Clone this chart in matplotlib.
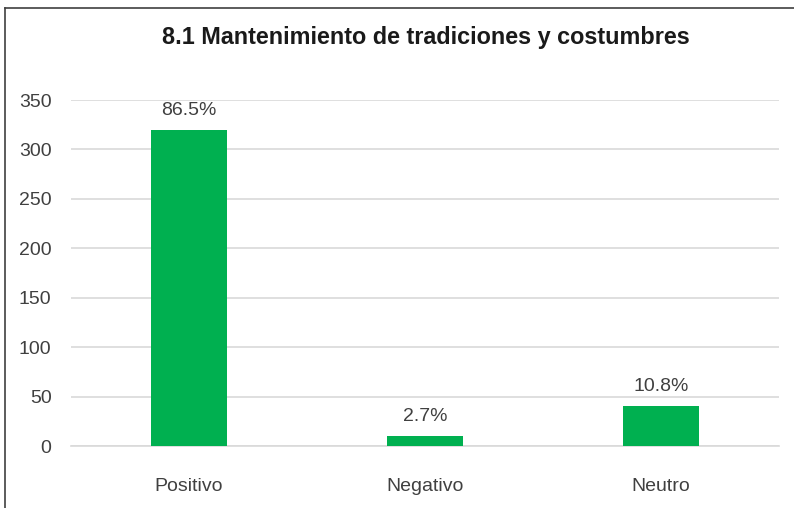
import matplotlib.pyplot as plt
from matplotlib.lines import Line2D

# data
categories = ['Positivo', 'Negativo', 'Neutro']
counts = [320, 10, 40]
percent_labels = ['86.5%', '2.7%', '10.8%']
y_ticks = [0, 50, 100, 150, 200, 250, 300, 350]

plt.rcParams['font.family'] = ['Liberation Sans', 'DejaVu Sans']

fig = plt.figure(figsize=(7.94, 5.08), dpi=100)
ax = fig.add_axes([0.0894, 0.122, 0.892, 0.681])

x = range(len(categories))
bars = ax.bar(x, counts, width=0.32, color='#00B050', zorder=3)

for bar, lab in zip(bars, percent_labels):
    ax.annotate(lab, (bar.get_x() + bar.get_width() / 2, bar.get_height()),
                xytext=(0, 8), textcoords='offset points',
                ha='center', va='bottom', fontsize=14, color='#404040')

ax.set_xlim(-0.5, 2.5)
ax.set_ylim(0, 350)
ax.set_yticks(y_ticks)
ax.set_xticks(list(x))
ax.set_xticklabels(categories)
ax.yaxis.grid(True, color='#d9d9d9', linewidth=1.2, zorder=0)
ax.tick_params(axis='both', length=0, labelsize=14, colors='#404040')
ax.tick_params(axis='x', pad=23)
ax.tick_params(axis='y', pad=14)
for s in ['top', 'right', 'left']:
    ax.spines[s].set_visible(False)
ax.spines['bottom'].set_color('#d9d9d9')
ax.spines['bottom'].set_linewidth(1.2)

fig.text(0.536, 0.927, '8.1 Mantenimiento de tradiciones y costumbres',
         ha='center', va='center', fontsize=16.8, fontweight='bold', color='#1a1a1a')

# outer frame visible at the top and left edge of the image
fig.add_artist(Line2D([5 / 794, 5 / 794], [0, 1 - 8 / 508], transform=fig.transFigure,
                      color='#404040', linewidth=1.2))
fig.add_artist(Line2D([5 / 794, 1], [1 - 8 / 508, 1 - 8 / 508], transform=fig.transFigure,
                      color='#404040', linewidth=1.2))

fig.savefig('out.png', dpi=100)
